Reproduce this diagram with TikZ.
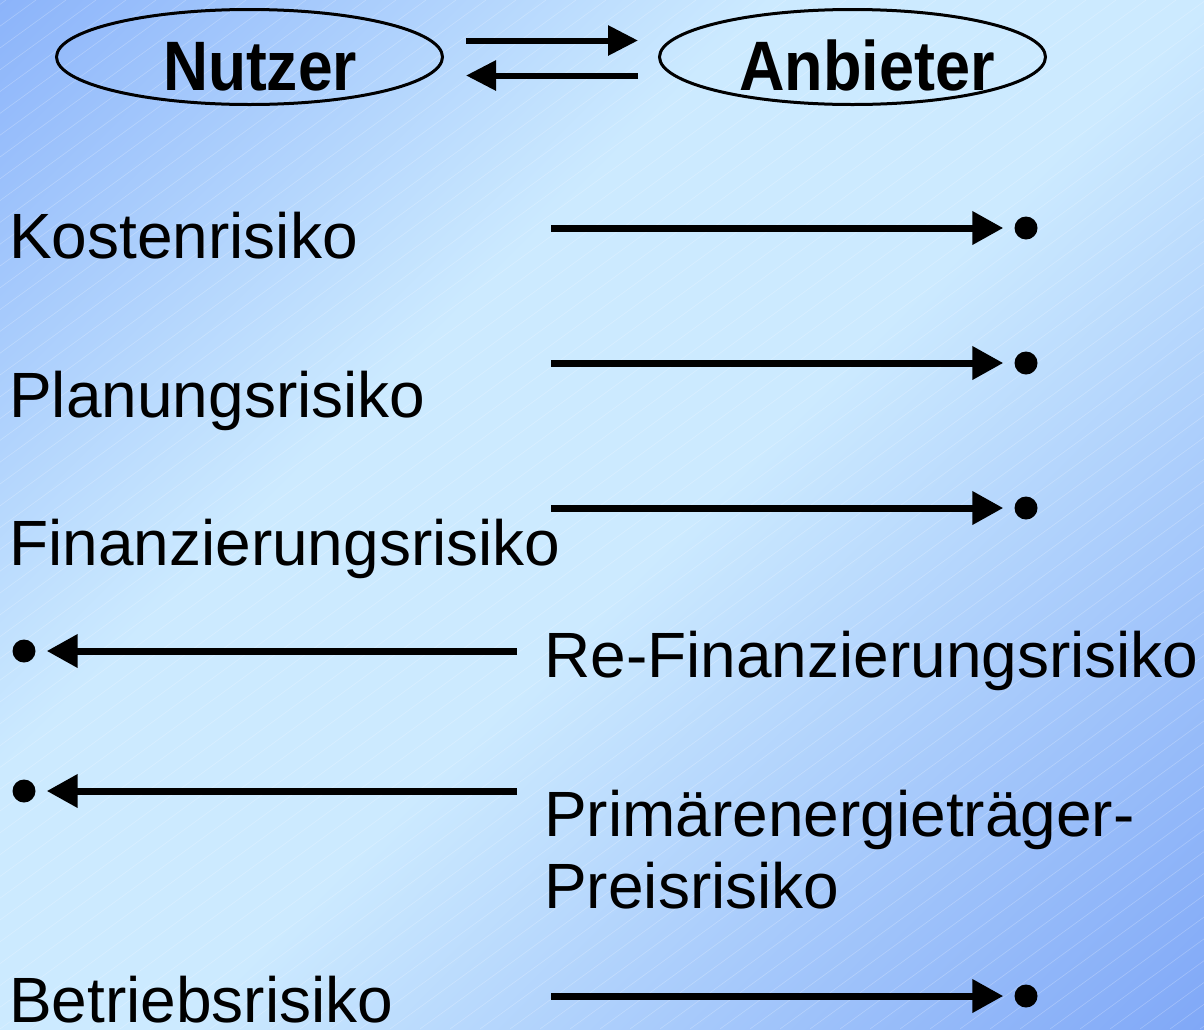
\documentclass[tikz,border=0pt]{standalone}
\usepackage{fontspec}
\usepackage{graphicx}
\setmainfont{Liberation Sans}
\usetikzlibrary{arrows.meta,shapes.geometric}

\definecolor{bgedge}{RGB}{140,180,250}
\definecolor{bgedgeb}{RGB}{128,168,247}
\definecolor{bgmid}{RGB}{204,234,255}
% diagonal background: blue corners, pale middle band
\pgfdeclarehorizontalshading{bgdiag}{100bp}{color(0bp)=(bgedge); color(14.6bp)=(bgedge); color(39bp)=(bgmid); color(53bp)=(bgmid); color(85.4bp)=(bgedgeb); color(100bp)=(bgedgeb)}

\begin{document}
\begin{tikzpicture}[x=1pt,y=-1pt,
  actor/.style={ellipse, draw, line width=3pt, minimum width=386pt, minimum height=95pt, inner sep=0pt},
  actorname/.style={inner sep=0pt, anchor=base, font=\fontsize{70}{74}\selectfont\bfseries},
  risk/.style={inner sep=0pt, anchor=base west, font=\fontsize{64}{72}\selectfont, align=left},
  riskdot/.style={circle, fill=black, minimum size=23pt, inner sep=0pt},
  flow/.style={line width=6pt, -{Triangle[length=30pt,width=29pt]}},
  transfer/.style={line width=7pt, -{Triangle[length=31pt,width=32pt]}, shorten >=11pt},
  hatch/.style={white, opacity=0.25, line width=0.6pt},
]
% background with a diagonal gradient and fine hatching
\useasboundingbox (0,0) rectangle (1204,1029);
\shade[shading=bgdiag, shading angle=-45] (0,0) rectangle (1204,1029);
\begin{scope}
  \clip (0,0) rectangle (1204,1029);
  \foreach \i in {-1500,-1470,...,1204}
    \draw[hatch] (\i,1029) -- ++(1416,-1029);
\end{scope}

% the two parties
\node[actor] (nutzerE) at (249.5,57) {};
\node[actor] (anbieterE) at (852.5,57) {};
\node[actorname] (nutzer) at (260,90) {\scalebox{0.89}[1]{Nutzer}};
\node[actorname] (anbieter) at (867,90) {\scalebox{0.9}[1]{Anbieter}};
\draw[flow] ([shift={(22,-16.5)}]nutzerE.east) -- ([shift={(-20,-16.5)}]anbieterE.west);
\draw[flow] ([shift={(-20,18.5)}]anbieterE.west) -- ([shift={(22,18.5)}]nutzerE.east);

% risks
\node[risk] (kosten) at (9,258) {Kostenrisiko};
\node[risk] (planung) at (9,417) {Planungsrisiko};
\node[risk] (finanz) at (9,565) {Finanzierungsrisiko};
\node[risk] (refinanz) at (544,677) {Re-Finanzierungsrisiko};
\node[risk] (primaer) at (544,908) {Primärenergieträger-\\Preisrisiko};
\node[risk] (betrieb) at (9,1022) {Betriebsrisiko};

% who carries each risk
\node[riskdot] (dK) at (1026,228) {};
\node[riskdot] (dP) at (1026,363) {};
\node[riskdot] (dF) at (1026,508) {};
\node[riskdot] (dR) at (24,651) {};
\node[riskdot] (dE) at (24,791) {};
\node[riskdot] (dB) at (1026,996) {};

\coordinate (sK) at (551,228);
\coordinate (sP) at (551,363);
\coordinate (sF) at (551,508);
\coordinate (sR) at (517,651);
\coordinate (sE) at (517,791);
\coordinate (sB) at (551,996);

\draw[transfer] (sK) -- (dK);
\draw[transfer] (sP) -- (dP);
\draw[transfer] (sF) -- (dF);
\draw[transfer] (sR) -- (dR);
\draw[transfer] (sE) -- (dE);
\draw[transfer] (sB) -- (dB);
\end{tikzpicture}
\end{document}
